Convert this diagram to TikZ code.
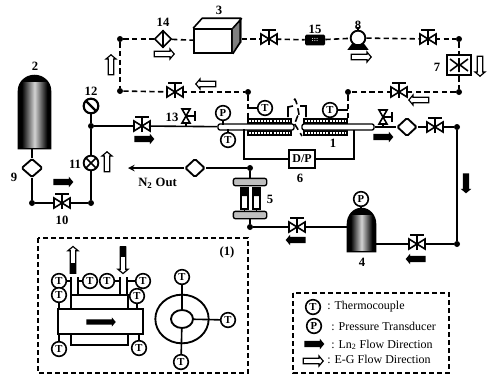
\documentclass[tikz,border=0pt]{standalone}
\usepackage{fontspec}
\setmainfont{Liberation Serif}
\usetikzlibrary{shapes.geometric,shapes.arrows,calc}

\newcommand{\valve}[2]{
    \node[valvemark] (#1) at (#2) {};
    \draw[pipe, fill=white, shift={(#1.center)}] (-8,-5) -- (8,5) -- (8,-5) -- (-8,5) -- cycle;
    \draw[pipe, shift={(#1.center)}] (0,6) -- (0,-9) (-7,-9) -- (7,-9);
}
\newcommand{\reliefvalve}[2]{
    \node[valvemark] (#1) at (#2) {};
    \draw[pipe, fill=white, shift={(#1.center)}] (-4,-7) -- (4,7) -- (-4,7) -- (4,-7) -- cycle;
    \draw[pipe, shift={(#1.center)}] (0,0) -- (9,0) (9,-5) -- (9,5);
}
\newcommand{\tank}[5]{
    \node[inner sep=0pt, minimum width=#4, minimum height=#5] (#1) at (#2,#3) {};
    \fill[black] (#1.south west) -- ($(#1.north west)+(0,16)$) to[out=90, in=180] (#1.north)
        to[out=0, in=90] ($(#1.north east)+(0,16)$) -- (#1.south east) -- cycle;
    \shade[left color=black, right color=black, middle color=gray!35]
        ($(#1.south west)+(4,-2)$) rectangle ($(#1.north east)+(-4,8)$);
}

\begin{document}
\begin{tikzpicture}[x=0.75pt, y=-0.75pt, font=\fontsize{9}{10}\selectfont]
    \tikzstyle{pipe} = [line width=1.2pt]
    \tikzstyle{dashpipe} = [line width=1.2pt, dash pattern=on 4pt off 2.5pt]
    \tikzstyle{framebox} = [line width=0.9pt, dash pattern=on 4pt off 2pt]
    \tikzstyle{junction} = [circle, fill=black, inner sep=0pt, minimum size=4.5pt]
    \tikzstyle{valvemark} = [circle, inner sep=0pt, minimum size=10pt]
    \tikzstyle{sensor} = [circle, draw, line width=1.2pt, fill=white, inner sep=0pt, minimum size=11pt, font=\fontsize{8}{8}\selectfont\bfseries]
    \tikzstyle{checkvalve} = [diamond, draw, line width=1.4pt, fill=white, inner sep=0pt, rounded corners=1pt, minimum width=15pt, minimum height=14pt]
    \tikzstyle{number} = [inner sep=0pt, font=\fontsize{9.5}{10}\selectfont\bfseries]
    \tikzstyle{plate} = [draw, line width=1pt, rounded corners=1.5pt, fill=gray!50, inner sep=0pt, minimum width=25pt, minimum height=5.5pt]
    \tikzstyle{jacket} = [fill=black, inner sep=0pt, minimum height=13.5pt]
    \tikzstyle{tube} = [draw, line width=1pt, rounded corners=1.5pt, fill=white, inner sep=0pt, minimum height=4.5pt]
    \tikzstyle{lnarrow} = [single arrow, fill=black, inner sep=1.9pt, minimum height=15pt, minimum width=8pt, single arrow head extend=1.5pt, single arrow tip angle=100]
    \tikzstyle{egarrow} = [single arrow, draw, line width=0.9pt, fill=white, inner sep=1.5pt, minimum height=15pt, minimum width=7.5pt, single arrow head extend=1.5pt, single arrow tip angle=100]
    \tikzstyle{label} = [inner sep=0pt, anchor=west]

    \useasboundingbox (0,0) rectangle (488,375);

    \node[junction] (topleft) at (120,39) {};
    \node[junction] (midleft) at (120,91) {};
    \node[junction] (midcentre) at (248,92) {};
    \node[junction] (midright) at (348,92) {};
    \node[junction] (topright) at (459,39) {};
    \node[junction] (lowright) at (459,92) {};
    \node[diamond, draw, line width=1.2pt, fill=white, inner sep=0pt, minimum size=13pt] (filter) at (163,39) {};
    \draw[pipe] (filter.north) -- (filter.south);
    \node[draw, line width=1.2pt, fill=white, inner sep=0pt, minimum width=28.5pt, minimum height=18pt] (bath) at (213,41) {};
    \fill[gray] (bath.north east) -- ++(9,-10) -- ++(0,24) -- (bath.south east) -- cycle;
    \draw[line width=1.2pt] (bath.north west) -- ++(9,-10) -- ++(38,0) -- ++(0,24) -- (bath.south east)
        (bath.north east) -- ++(9,-10);
    \valve{egvalveone}{269,39}
    \node[fill=black, rounded corners=1pt, inner sep=0pt, minimum width=15pt, minimum height=8pt, text=white, font=\fontsize{5}{5}\selectfont] (flowmeter) at (315,40) {\textbf{:::}};
    \node[circle, draw, line width=1.4pt, fill=white, inner sep=0pt, minimum size=11pt] (pump) at (358,38) {};
    \draw[line width=1.2pt, fill=black] (349,49) -- (352,45) -- (364,45) -- (367,49) -- cycle;
    \draw[line width=1.2pt] (358,27) -- (pump);
    \valve{egvalvetwo}{428,39}
    \node[draw, line width=1.4pt, fill=white, inner sep=0pt, minimum width=17.5pt, minimum height=15.5pt] (exchanger) at (459,65) {};
    \draw[line width=1.2pt, shift={(exchanger.center)}] (-9,-6) -- (-1,0) -- (-9,6) (9,-6) -- (1,0) -- (9,6) (0,-7) -- (0,7);
    \valve{egvalvethree}{399,92}
    \valve{egvalvefour}{175,92}

    \draw[dashpipe] (topleft) -- (midleft);
    \draw[dashpipe] (topleft) -- (filter);
    \draw[dashpipe] (filter) -- (bath);
    \draw[dashpipe] (bath.east) ++(9,-2) -- (egvalveone);
    \draw[dashpipe] (egvalveone) -- (flowmeter);
    \draw[dashpipe] (flowmeter) -- (pump);
    \draw[dashpipe] (pump) -- (egvalvetwo);
    \draw[dashpipe] (egvalvetwo) -- (topright);
    \draw[dashpipe] (topright) -- (exchanger);
    \draw[dashpipe] (exchanger) -- (lowright);
    \draw[dashpipe] (lowright) -- (egvalvethree);
    \draw[dashpipe] (egvalvethree) -- (midright);
    \draw[dashpipe] (midleft) -- (egvalvefour);
    \draw[dashpipe] (egvalvefour) -- (midcentre);

    \tank{nitrogen}{34.5}{112}{24.75pt}{55.5pt}
    \node[checkvalve, minimum width=16pt] (checkleft) at (32,168) {};
    \node[junction] (cornerleft) at (32,203) {};
    \node[junction] (cornermid) at (91,203) {};
    \valve{gasvalve}{62,203}
    \node[circle, draw, line width=1.4pt, fill=white, inner sep=0pt, minimum size=11pt, path picture={\draw[line width=1.2pt] (path picture bounding box.south west) -- (path picture bounding box.north east) (path picture bounding box.north west) -- (path picture bounding box.south east);}] (regulator) at (91,163) {};
    \node[circle, draw, line width=1.6pt, fill=white, inner sep=0pt, minimum size=11pt, path picture={\draw[line width=1.8pt] (path picture bounding box.north west) -- (path picture bounding box.south east);}] (gauge) at (91,106) {};
    \node[junction] (teegas) at (91,126) {};
    \valve{mainvalve}{142,126}
    \reliefvalve{reliefleft}{186,116}
    \coordinate (teeleft) at (186,126);

    \draw[pipe] (32,149) -- (checkleft);
    \draw[pipe] (checkleft) -- (cornerleft);
    \draw[pipe] (cornerleft) -- (gasvalve);
    \draw[pipe] (gasvalve) -- (cornermid);
    \draw[pipe] (cornermid) -- (regulator);
    \draw[pipe] (regulator) -- (teegas);
    \draw[pipe] (teegas) -- (gauge);
    \draw[pipe] (teegas) -- (mainvalve);
    \draw[pipe] (teeleft) -- (reliefleft);

    \node[jacket, minimum width=34pt] (jacketleft) at (269.5,127) {};
    \node[jacket, minimum width=34pt] (jacketright) at (325.5,127) {};
    \draw[white, line width=0.8pt, dash pattern=on 1.5pt off 0.8pt] (249,121) -- (290,121) (249,133) -- (290,133) (305,121) -- (346,121) (305,133) -- (346,133);
    \node[tube, minimum width=57pt] (tubeleft) at (256,127) {};
    \node[tube, minimum width=54pt] (tuberight) at (338,127) {};
    \draw[white, line width=3pt] (294,112) -- (300,135);
    \draw[line width=1.2pt, dash pattern=on 5pt off 3pt] (294,100) to[out=70, in=-80] (299,115) to[out=100, in=-80] (294,123) -- (302,136);
    \draw[pipe] (288,117) -- (288,107) -- (293,106) (306,117) -- (306,106) -- (300,106);
    \draw[pipe] (mainvalve) -- (tubeleft);

    \node[sensor] (pressureone) at (223,113) {P};
    \node[sensor] (tempone) at (228,140) {T};
    \node[sensor] (temptwo) at (265,108) {T};
    \node[sensor] (tempthree) at (330,110) {T};
    \draw[pipe] (pressureone) -- (223,125);
    \draw[pipe] (tempone) -- (228,129);
    \draw[dashpipe] (midcentre) -- (248,118);
    \draw[dashpipe] (midright) -- (348,118);
    \draw[pipe] (temptwo) -- (248,108);
    \draw[pipe] (tempthree) -- (348,110);

    \node[draw, line width=1.4pt, fill=white, inner sep=0pt, minimum width=19.5pt, minimum height=13.5pt, font=\fontsize{9}{9}\selectfont\bfseries] (dpcell) at (302,159) {D/P};
    \draw[line width=0.9pt] (244,129) -- (244,159) -- (dpcell);
    \draw[line width=0.9pt] (354,130) -- (354,159) -- (dpcell);

    \reliefvalve{reliefright}{383,117}
    \node[checkvalve] (checkright) at (407,127) {};
    \valve{exitvalve}{435,127}
    \node[junction] (cornerright) at (457,127) {};
    \node[junction] (cornerlow) at (457,244) {};
    \valve{lowvalveright}{417,244}
    \tank{dewar}{361.5}{230}{21.75pt}{33pt}
    \node[sensor] (pressuretwo) at (361,199) {P};
    \valve{lowvalveleft}{297,227}
    \node[junction] (teelow) at (250,227) {};
    \node[plate] (platelow) at (250,215) {};
    \node[plate] (plateup) at (250,182) {};
    \node[junction] (teeout) at (250,168) {};
    \node[checkvalve] (checkout) at (195,168) {};
    \coordinate (nitrogenout) at (128,168);
    \coordinate (teeright) at (383,127);

    \draw[pipe] (tuberight) -- (checkright);
    \draw[pipe] (teeright) -- (reliefright);
    \draw[pipe] (checkright) -- (exitvalve);
    \draw[pipe] (exitvalve) -- (cornerright);
    \draw[pipe] (cornerright) -- (cornerlow);
    \draw[pipe] (cornerlow) -- (lowvalveright);
    \draw[pipe] (lowvalveright) -- (dewar.south east |- lowvalveright);
    \draw[pipe] (dewar.south west |- lowvalveleft) -- (lowvalveleft);
    \draw[pipe] (lowvalveleft) -- (teelow);
    \draw[pipe] (teelow) -- (platelow);
    \draw[pipe] (plateup) -- (teeout);
    \draw[pipe] (teeout) -- (checkout);
    \draw[pipe, -stealth] (checkout) -- (nitrogenout);
    \draw[pipe] (pressuretwo) -- (361,208);
    \draw[line width=1.2pt, fill=white] (241,188) rectangle (248,209) (253,188) rectangle (260,209);
    \fill (241,188) rectangle (248,196) (253,188) rectangle (260,196);
    \draw[pipe] (244.5,209) -- (244.5,212) (256.5,209) -- (256.5,212);

    \node[number] (numone) at (333,143) {1};
    \node[number] (numtwo) at (35,66) {2};
    \node[number] (numthree) at (219,10) {3};
    \node[number] (numfour) at (362,262) {4};
    \node[number] (numfive) at (270,199) {5};
    \node[number] (numsix) at (300,178) {6};
    \node[number] (numseven) at (437,67) {7};
    \node[number] (numeight) at (358,25) {8};
    \node[number] (numnine) at (14,177) {9};
    \node[number] (numten) at (62,220) {10};
    \node[number] (numeleven) at (75,164) {11};
    \node[number] (numtwelve) at (91,91) {12};
    \node[number] (numthirteen) at (172,117) {13};
    \node[number] (numfourteen) at (163,22) {14};
    \node[number] (numfifteen) at (315,29) {15};
    \node[number, anchor=west, font=\fontsize{9.5}{10}\selectfont\bfseries] (nitrogentext) at (138,183) {N\textsubscript{2} Out};

    \node[egarrow] (flowtop) at (163,54) {};
    \node[egarrow] (flowpump) at (360,57) {};
    \node[egarrow, rotate=90] (flowreturn) at (111,66) {};
    \node[egarrow, rotate=180] (flowmid) at (207,84) {};
    \node[egarrow, rotate=180] (flowlow) at (420,100) {};
    \node[egarrow, rotate=-90] (flowchiller) at (480,65) {};
    \node[lnarrow] (flowgas) at (62,182) {};
    \node[egarrow, rotate=90] (flowreg) at (107,163) {};
    \node[lnarrow] (flowmain) at (143,139) {};
    \node[lnarrow] (flowexit) at (382,137) {};
    \node[lnarrow, rotate=-90] (flowdown) at (466,182) {};
    \node[lnarrow, rotate=180] (flowvalve) at (297,240) {};
    \node[lnarrow, rotate=180] (flowdewar) at (417,259) {};

    \draw[framebox] (38,238) rectangle (248,373);
    \node[number] (detailtext) at (227,252) {(1)};
    \node[draw, line width=1.4pt, fill=white, inner sep=0pt, minimum width=43pt, minimum height=37pt] (shell) at (99.5,320) {};
    \node[draw, line width=1.4pt, fill=white, inner sep=0pt, minimum width=63.5pt, minimum height=18.5pt] (core) at (100.5,321.5) {};
    \node[lnarrow, minimum height=22pt, minimum width=7pt, inner sep=1.6pt] (flowcore) at (100,322) {};
    \node[sensor] (detailone) at (59,281) {T};
    \node[sensor] (detailtwo) at (59,295) {T};
    \node[sensor] (detailthree) at (90,281) {T};
    \node[sensor] (detailfour) at (107,281) {T};
    \node[sensor] (detailfive) at (143,281) {T};
    \node[sensor] (detailsix) at (137,296) {T};
    \node[sensor] (detailseven) at (59,349) {T};
    \node[sensor] (detaileight) at (139,348) {T};
    \draw[pipe] (71,277) -- (71,295) (78,277) -- (78,295) (120,277) -- (120,295) (127,277) -- (127,295);
    \draw[pipe] (detailone) -- (71,281);
    \draw[pipe] (detailthree) -- (78,281);
    \draw[pipe] (detailfour) -- (120,281);
    \draw[pipe] (detailfive) -- (127,281);
    \draw[pipe] (detailtwo) -- (detailtwo |- core.north);
    \draw[pipe] (detailsix) -- (detailsix |- core.north);
    \draw[pipe] (detailseven) -- (detailseven |- core.south);
    \draw[pipe] (detaileight) -- (detaileight |- core.south);
    \node[egarrow, rotate=90, minimum height=20pt] (detailup) at (73,261) {};
    \fill (70,263) rectangle (76,274);
    \node[egarrow, rotate=-90, minimum height=20pt] (detaildown) at (123,259) {};
    \fill (120,246) rectangle (126,257);
    \node[ellipse, draw, line width=1.4pt, inner sep=0pt, minimum width=40pt, minimum height=36.5pt] (ringouter) at (182,319) {};
    \node[ellipse, draw, line width=1.4pt, fill=white, inner sep=0pt, minimum width=16.5pt, minimum height=13.5pt] (ringinner) at (182,319) {};
    \node[sensor] (ringtop) at (182,277) {T};
    \node[sensor] (ringright) at (228,320) {T};
    \node[sensor] (ringbottom) at (181,362) {T};
    \draw[pipe] (ringtop) -- (ringinner);
    \draw[pipe] (ringright) -- (ringinner);
    \draw[pipe] (ringbottom) -- (ringinner);

    \draw[framebox] (293,293) rectangle (449,373);
    \node[sensor] (keytemp) at (313,307) {T};
    \node[sensor] (keypressure) at (314,326) {P};
    \node[lnarrow] (keyln) at (313,344) {};
    \node[egarrow] (keyeg) at (312,361) {};
    \node[label] (keytemptext) at (327,307) {: Thermocouple};
    \node[label] (keypressuretext) at (331,326) {: Pressure Transducer};
    \node[label] (keylntext) at (331,345) {: Ln\textsubscript{2} Flow Direction};
    \node[label] (keyegtext) at (327,359) {: E-G Flow Direction};
\end{tikzpicture}
\end{document}
